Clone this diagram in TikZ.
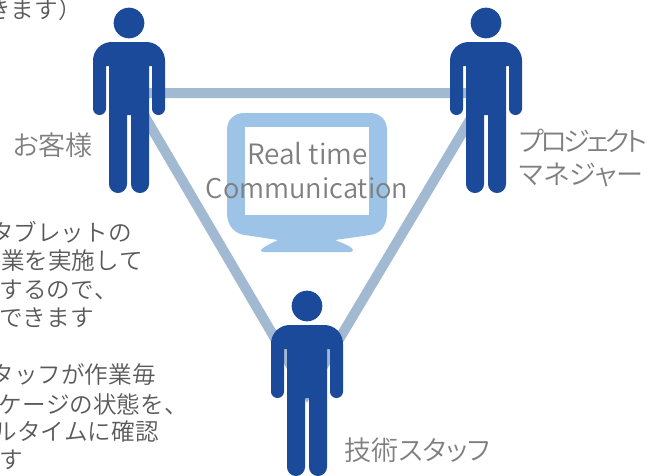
\documentclass[tikz,border=0pt]{standalone}
\usepackage{fontspec}
\setmainfont[Kerning=Off]{Noto Sans CJK JP DemiLight}
\newfontfamily\propfont[RawFeature=+palt]{Noto Sans CJK JP DemiLight}
\newfontfamily\tightfont[RawFeature=+palt,LetterSpace=-12.5]{Noto Sans CJK JP DemiLight}
\definecolor{figblue}{HTML}{1C4A9A}
\definecolor{barblue}{HTML}{A1B9D1}
\definecolor{screenblue}{HTML}{9DC3E6}
\definecolor{labelgray}{HTML}{7F7F7F}
\definecolor{textgray}{HTML}{595959}
\tikzset{
  person/.pic={
    \fill[figblue] (0,0) circle[radius=11.5pt];
    \fill[figblue] (-2,92)
      [rounded corners=6.7pt] -- (-2,170) -- (-20,170)
      [rounded corners=0pt] -- (-20,43) -- (-23,43)
      [rounded corners=4.8pt] -- (-23,92) -- (-36,92)
      [rounded corners=14pt] -- (-36,19) -- (36,19)
      [rounded corners=4.8pt] -- (36,92) -- (23,92)
      [rounded corners=0pt] -- (23,43) -- (20,43)
      [rounded corners=6.7pt] -- (20,170) -- (2,170)
      [rounded corners=0pt] -- (2,92) -- cycle;
  },
  bar/.style={draw=barblue,line width=7.5pt,line join=miter,miter limit=10},
  bigtext/.style={text=labelgray,font=\propfont\fontsize{20.3}{24}\selectfont,inner sep=0pt},
  bodytext/.style={text=textgray,font=\fontsize{17.7}{21}\selectfont,inner sep=0pt,anchor=east},
}
\begin{document}
\begin{tikzpicture}[x=0.75pt,y=-0.75pt]
\useasboundingbox (0,0) rectangle (656,475);
\clip (0,0) rectangle (656,475);
\coordinate (client) at (129,23);
\coordinate (manager) at (486,23);
\coordinate (tech) at (307,306);
\coordinate (cornerA) at (131,93);
\coordinate (cornerB) at (486,93);
\coordinate (cornerC) at (307,393);
\draw[bar] (cornerA) -- (cornerB) -- (cornerC) -- cycle;
\fill[screenblue] (244,113) [rounded corners=0pt] -- (370,113)
  .. controls (380,113) and (387,120) .. (387,130)
  -- (387,213) .. controls (387,226) and (380,234) .. (370,235)
  -- (335,240) .. controls (345,244) and (352,247) .. (353,250)
  .. controls (353,251) and (352,252) .. (350,252)
  -- (264,252) .. controls (262,252) and (260,251) .. (261,250)
  .. controls (263,247) and (270,244) .. (278,240)
  -- (245,235) .. controls (235,234) and (227,226) .. (227,213)
  -- (227,130) .. controls (227,120) and (234,113) .. (244,113) -- cycle;
\fill[white] (244.5,127) rectangle (369,215);
\pic at (client) {person};
\pic at (manager) {person};
\pic at (tech) {person};
\node[bigtext,font=\propfont\fontsize{21}{25.5}\selectfont] (rtA) at (307.5,154) {Real time};
\node[bigtext,font=\propfont\fontsize{20.4}{25.5}\selectfont] (rtB) at (307,188) {Communication};
\node[bigtext,anchor=west] (lclient) at (12.5,145) {お客様};
\node[bigtext,anchor=west,font=\tightfont\fontsize{20.3}{24}\selectfont] (lmanagerA) at (519,141) {プロジェクト};
\node[bigtext,anchor=west] (lmanagerB) at (519,175) {マネジャー};
\node[bigtext,anchor=west] (ltech) at (344,450) {技術スタッフ};
\node[bodytext] (t0) at (82,10) {きます）};
\node[bodytext] (t1) at (132,232) {タブレットの};
\node[bodytext] (t2) at (143,261) {業を実施して};
\node[bodytext] (t3) at (118,290) {するので、};
\node[bodytext] (t4) at (94,318) {できます};
\node[bodytext] (t5) at (156,375) {タッフが作業毎};
\node[bodytext] (t6) at (188,404) {ケージの状態を、};
\node[bodytext] (t7) at (159,432) {ルタイムに確認};
\node[bodytext] (t8) at (23,460) {す};
\end{tikzpicture}
\end{document}
